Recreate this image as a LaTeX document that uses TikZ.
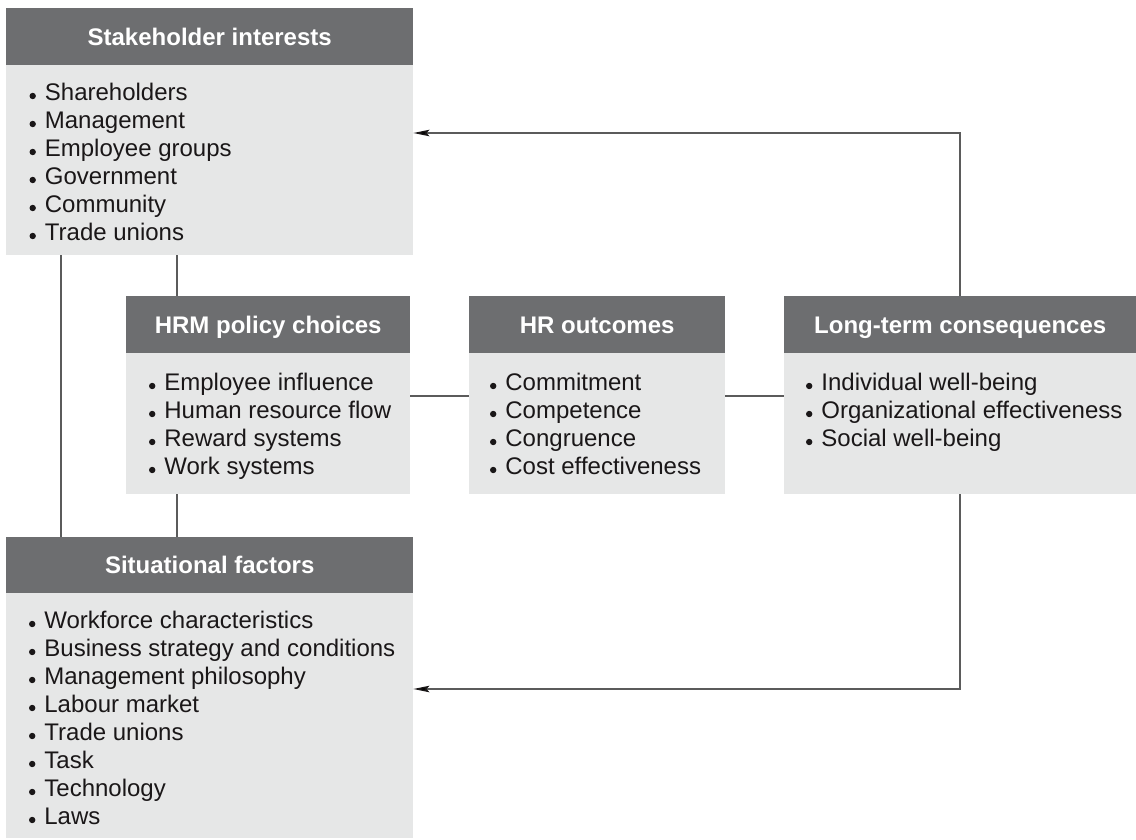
\documentclass[tikz,border=0pt]{standalone}
\usepackage{fontspec}
\setmainfont{Liberation Sans}
\usetikzlibrary{arrows.meta}

\definecolor{headgray}{HTML}{6D6E70}
\definecolor{bodygray}{HTML}{E6E7E7}
\definecolor{linegray}{HTML}{5B5B5B}
\definecolor{inkblack}{HTML}{1A1718}

% list item: small round bullet followed by the entry
\newcommand{\itm}[1]{\raisebox{1.0pt}{\tikz\fill[inkblack] (0,0) circle (3.2pt);}\hspace{9pt}#1}

\tikzset{
  headbox/.style={rectangle, fill=headgray, text=white, inner sep=0pt,
    anchor=north west, text height=17.2pt, text depth=0pt,
    font=\bfseries\fontsize{24}{28}\selectfont},
  bodybox/.style={rectangle, fill=bodygray, inner sep=0pt, anchor=north west},
  itemlist/.style={anchor=north west, inner sep=0pt, align=left, text=inkblack,
    font=\fontsize{24}{28}\selectfont},
  conn/.style={draw=linegray, line width=1.3pt},
  feedback/.style={conn, -{Stealth[length=16pt, width=6.5pt, inset=3pt, color=inkblack]}}
}

\begin{document}
\begin{tikzpicture}[x=1pt, y=-1pt]
\useasboundingbox (0,0) rectangle (1136,839);

% ---- Stakeholder interests ----
\node[headbox, minimum width=407pt, minimum height=57pt] (SIhead) at (6,8) {Stakeholder interests};
\node[bodybox, minimum width=407pt, minimum height=190pt] (SIbody) at (6,65) {};
\node[itemlist] (SIlist) at (29.3,82.6) {\itm{Shareholders}\\ \itm{Management}\\ \itm{Employee groups}\\ \itm{Government}\\ \itm{Community}\\ \itm{Trade unions}};

% ---- HRM policy choices ----
\node[headbox, minimum width=284pt, minimum height=57pt] (HRMhead) at (126,296) {HRM policy choices};
\node[bodybox, minimum width=284pt, minimum height=141pt] (HRMbody) at (126,353) {};
\node[itemlist] (HRMlist) at (148.8,372.6) {\itm{Employee influence}\\ \itm{Human resource flow}\\ \itm{Reward systems}\\ \itm{Work systems}};

% ---- HR outcomes ----
\node[headbox, minimum width=256pt, minimum height=57pt] (HROhead) at (469,296) {HR outcomes};
\node[bodybox, minimum width=256pt, minimum height=141pt] (HRObody) at (469,353) {};
\node[itemlist] (HROlist) at (489.8,372.6) {\itm{Commitment}\\ \itm{Competence}\\ \itm{Congruence}\\ \itm{Cost effectiveness}};

% ---- Long-term consequences ----
\node[headbox, minimum width=352pt, minimum height=57pt] (LTChead) at (784,296) {Long-term consequences};
\node[bodybox, minimum width=352pt, minimum height=141pt] (LTCbody) at (784,353) {};
\node[itemlist] (LTClist) at (805.8,372.6) {\itm{Individual well-being}\\ \itm{Organizational effectiveness}\\ \itm{Social well-being}};

% ---- Situational factors ----
\node[headbox, minimum width=407pt, minimum height=56pt] (SFhead) at (6,537) {Situational factors};
\node[bodybox, minimum width=407pt, minimum height=245pt] (SFbody) at (6,593) {};
\node[itemlist] (SFlist) at (28.8,610.6) {\itm{Workforce characteristics}\\ \itm{Business strategy and conditions}\\ \itm{Management philosophy}\\ \itm{Labour market}\\ \itm{Trade unions}\\ \itm{Task}\\ \itm{Technology}\\ \itm{Laws}};

% ---- connector anchor points ----
\coordinate (lv) at ([xshift=55pt]SIbody.south west);
\coordinate (mv) at ([xshift=51pt]HRMhead.north west);
\coordinate (mb) at ([xshift=51pt]HRMbody.south west);
\coordinate (hz) at ([yshift=-43pt]HRMbody.north east);
\coordinate (tv) at ([xshift=176pt]LTChead.north west);
\coordinate (bv) at ([xshift=176pt]LTCbody.south west);
\coordinate (ta) at ([yshift=-68pt]SIbody.north east);
\coordinate (ba) at ([yshift=-96pt]SFbody.north east);

% ---- plain links ----
\draw[conn] (lv) -- (lv |- SFhead.north);
\draw[conn] (mv |- SIbody.south) -- (mv);
\draw[conn] (mb) -- (mb |- SFhead.north);
\draw[conn] (hz) -- (hz -| HRObody.west);
\draw[conn] (hz -| HRObody.east) -- (hz -| LTCbody.west);

% ---- feedback arrows ----
\draw[feedback] (tv) |- (ta);
\draw[feedback] (bv) |- (ba);
\end{tikzpicture}
\end{document}
